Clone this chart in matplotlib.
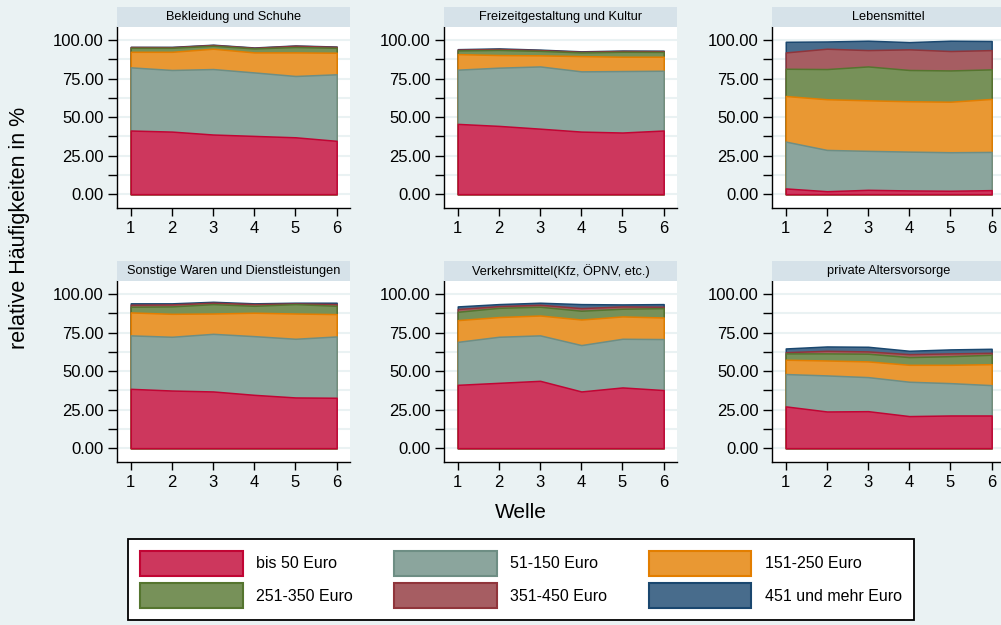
import matplotlib
matplotlib.use("Agg")
import matplotlib.pyplot as plt
import numpy as np
from matplotlib.patches import Patch, Rectangle

plt.rcParams["font.family"] = ["Liberation Sans", "DejaVu Sans"]

# Spending shares per wave (relative frequency in %), one list per class
waves = [1, 2, 3, 4, 5, 6]
classes = ["bis 50 Euro", "51-150 Euro", "151-250 Euro",
           "251-350 Euro", "351-450 Euro", "451 und mehr Euro"]
panel_titles = ["Bekleidung und Schuhe", "Freizeitgestaltung und Kultur",
                "Lebensmittel", "Sonstige Waren und Dienstleistungen",
                "Verkehrsmittel(Kfz, ÖPNV, etc.)", "private Altersvorsorge"]

kleidung = [
    [41.3, 40.6, 38.7, 37.8, 36.9, 34.6],
    [41.0, 40.0, 42.5, 41.2, 39.8, 43.2],
    [10.1, 11.8, 13.2, 13.0, 15.3, 14.0],
    [2.6, 2.6, 1.9, 2.6, 3.5, 3.2],
    [0.5, 0.4, 0.5, 0.4, 0.8, 0.6],
    [0.1, 0.2, 0.2, 0.2, 0.2, 0.2],
]
freizeit = [
    [45.6, 44.3, 42.5, 40.6, 40.0, 41.3],
    [35.2, 37.8, 40.4, 39.1, 39.9, 38.8],
    [10.1, 8.2, 7.2, 9.9, 9.3, 9.1],
    [2.4, 3.3, 2.9, 2.4, 3.2, 3.1],
    [0.5, 0.6, 0.5, 0.4, 0.5, 0.5],
    [0.3, 0.4, 0.3, 0.3, 0.3, 0.3],
]
lebensmittel = [
    [3.7, 1.9, 2.8, 2.4, 2.2, 2.6],
    [30.4, 26.8, 25.3, 25.2, 25.0, 24.8],
    [29.6, 32.9, 32.8, 32.7, 32.8, 34.4],
    [17.7, 19.6, 22.0, 20.3, 20.3, 19.2],
    [10.6, 13.2, 10.6, 13.4, 12.6, 12.5],
    [6.9, 4.7, 6.1, 4.7, 6.7, 5.9],
]
sonstige = [
    [38.5, 37.4, 36.8, 34.6, 32.9, 32.7],
    [34.7, 34.9, 37.4, 38.1, 38.1, 39.8],
    [14.9, 14.9, 13.2, 15.2, 16.4, 14.5],
    [3.7, 4.8, 6.1, 4.5, 6.1, 5.4],
    [1.3, 1.3, 0.9, 1.1, 0.4, 1.1],
    [0.9, 0.7, 0.6, 0.5, 0.5, 0.9],
]
verkehr = [
    [41.1, 42.4, 43.7, 36.8, 39.4, 37.7],
    [27.9, 29.9, 29.5, 30.1, 31.6, 33.1],
    [14.1, 12.8, 12.9, 16.6, 14.5, 14.0],
    [5.4, 6.0, 5.7, 5.7, 5.0, 6.1],
    [1.8, 1.1, 1.3, 1.7, 1.5, 0.9],
    [1.7, 1.3, 1.3, 2.6, 1.3, 1.7],
]
vorsorge = [
    [27.1, 23.8, 24.0, 20.8, 21.2, 21.2],
    [21.0, 23.4, 22.1, 22.3, 21.0, 19.7],
    [9.3, 9.7, 10.2, 11.0, 11.9, 13.6],
    [4.1, 4.6, 5.0, 5.0, 5.6, 6.1],
    [0.8, 1.7, 1.5, 1.9, 1.8, 1.3],
    [2.4, 2.8, 3.0, 2.2, 2.6, 2.6],
]
panels = [kleidung, freizeit, lebensmittel, sonstige, verkehr, vorsorge]

# s2color-like palette: outline colours, fills at 80% intensity
line_rgb = np.array([[193, 5, 52], [110, 142, 132], [227, 126, 0],
                     [85, 117, 47], [144, 53, 59], [26, 71, 111]]) / 255
fill_rgb = 0.8 * line_rgb + 0.2
bg = (234 / 255, 242 / 255, 243 / 255)
strip_col = (214 / 255, 226 / 255, 233 / 255)

W, H = 1001, 625
fig = plt.figure(figsize=(W / 100, H / 100), dpi=100, facecolor=bg)


def px_rect(left, top, width, height):
    return [left / W, 1 - (top + height) / H, width / W, height / H]


col_left = [117, 444, 772]
row_top = [27, 281]
ax_w, ax_h = 233, 181
strip_h = 20

for i, (title, data) in enumerate(zip(panel_titles, panels)):
    r, c = divmod(i, 3)
    ax = fig.add_axes(px_rect(col_left[c], row_top[r], ax_w, ax_h))
    ax.set_facecolor("white")
    cum = np.cumsum(np.array(data), axis=0)
    ax.set_yticks(np.arange(0, 101, 25))
    ax.set_yticks(np.arange(12.5, 100, 25), minor=True)
    for g in np.arange(0, 100.1, 12.5):
        ax.axhline(g, color=bg, lw=1.5, zorder=0)
    # largest cumulative total first so lower classes sit on top
    for k in range(len(classes) - 1, -1, -1):
        ax.fill_between(waves, 0, cum[k], facecolor=fill_rgb[k],
                        edgecolor=line_rgb[k], linewidth=1.1, zorder=2)
    ax.set_xlim(0.666, 6.324)
    ax.set_ylim(-9, 108.5)
    ax.set_xticks(waves)
    ax.set_yticklabels([f"{v:.2f}" for v in np.arange(0, 101, 25)])
    for s in ("top", "right"):
        ax.spines[s].set_visible(False)
    for s in ("left", "bottom"):
        ax.spines[s].set_linewidth(1.0)
    ax.tick_params(axis="y", which="both", length=6.5, width=1.0,
                   labelsize=12, pad=3)
    ax.tick_params(axis="x", length=5.5, width=1.0, labelsize=12, pad=4)

    fig.add_artist(Rectangle(
        (col_left[c] / W, 1 - row_top[r] / H), ax_w / W, strip_h / H,
        transform=fig.transFigure, facecolor=strip_col, edgecolor="none"))
    fig.text((col_left[c] + ax_w / 2) / W, 1 - (row_top[r] - strip_h / 2) / H,
             title, ha="center", va="center", fontsize=9.2)

fig.text(20 / W, 1 - 228 / H, "relative Häufigkeiten in %", rotation=90,
         ha="center", va="center", fontsize=15.5)
fig.text(521 / W, 1 - 513 / H, "Welle", ha="center", va="center",
         fontsize=15)

handles = [Patch(facecolor=fill_rgb[k], edgecolor=line_rgb[k], linewidth=1.5)
           for k in range(len(classes))]
order = [0, 3, 1, 4, 2, 5]
leg = fig.legend([handles[k] for k in order], [classes[k] for k in order],
                 loc="center", bbox_to_anchor=(521 / W, 1 - 579.5 / H),
                 ncol=3, fontsize=11.5, handlelength=6.4, handleheight=2.0,
                 handletextpad=0.85, columnspacing=2.6, labelspacing=0.5,
                 borderpad=0.75, fancybox=False, framealpha=1,
                 edgecolor="black", facecolor="white")
leg.get_frame().set_linewidth(1.3)

fig.savefig("out.png", dpi=100, facecolor=bg)
